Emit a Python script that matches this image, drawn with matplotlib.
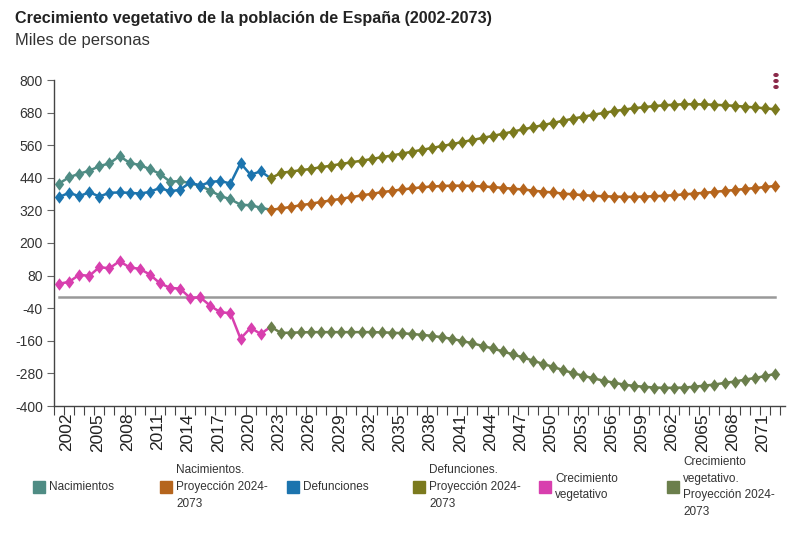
import matplotlib
matplotlib.use("Agg")
import matplotlib.pyplot as plt
import numpy as np
from matplotlib.patches import Rectangle, Circle

plt.rcParams['font.family'] = ['Liberation Sans', 'DejaVu Sans']

# --- data (miles de personas) ---
years_hist = list(range(2002, 2023))
years_proj = list(range(2023, 2074))

nacimientos = [419, 442, 455, 466, 483, 493, 520, 495, 487, 472, 455,
               426, 428, 420, 411, 393, 373, 361, 341, 339, 330]
defunciones = [369, 385, 372, 387, 371, 385, 386, 385, 382, 388, 403,
               390, 396, 423, 411, 425, 428, 419, 494, 451, 464]
crecimiento = [50, 57, 83, 79, 111, 107, 133, 110, 105, 84, 52,
               35, 32, -2, 0, -31, -55, -58, -152, -112, -135]

nacimientos_proy = [322, 327, 333, 339, 345, 351, 357, 363, 369, 375,
                    381, 387, 392, 397, 401, 405, 408, 410, 411, 411,
                    410, 408, 406, 403, 400, 397, 393, 389, 386, 382,
                    379, 376, 374, 372, 371, 370, 370, 371, 372, 374,
                    376, 379, 382, 385, 388, 392, 395, 399, 402, 406, 410]
defunciones_proy = [438, 458, 463, 468, 473, 479, 485, 491, 497, 503,
                    509, 516, 522, 529, 536, 543, 550, 557, 564, 572,
                    579, 587, 594, 602, 610, 618, 626, 634, 642, 650,
                    658, 665, 672, 679, 685, 691, 696, 700, 704, 707,
                    709, 711, 711, 710, 709, 707, 705, 702, 699, 696, 692]
crecimiento_proy = [-108, -131, -130, -129, -128, -128, -128, -128, -128, -128,
                    -128, -129, -130, -132, -135, -138, -142, -147, -153, -161,
                    -169, -179, -188, -199, -210, -221, -233, -245, -256, -268,
                    -279, -289, -298, -307, -314, -321, -326, -329, -332, -333,
                    -333, -332, -329, -325, -321, -315, -310, -303, -297, -290, -282]

yticks = [-400, -280, -160, -40, 80, 200, 320, 440, 560, 680, 800]
xlabels = list(range(2002, 2072, 3))

c_nac = "#4f8c84"
c_nac_p = "#b5651d"
c_def = "#1c74ae"
c_def_p = "#7b7a1e"
c_cre = "#d83fae"
c_cre_p = "#6b7f4c"

series = [
    ("Nacimientos", years_hist, nacimientos, c_nac),
    ("Nacimientos.\nProyección 2024-\n2073", years_proj, nacimientos_proy, c_nac_p),
    ("Defunciones", years_hist, defunciones, c_def),
    ("Defunciones.\nProyección 2024-\n2073", years_proj, defunciones_proy, c_def_p),
    ("Crecimiento\nvegetativo", years_hist, crecimiento, c_cre),
    ("Crecimiento\nvegetativo.\nProyección 2024-\n2073", years_proj, crecimiento_proy, c_cre_p),
]

W, H = 800, 537
fig = plt.figure(figsize=(W / 100, H / 100), dpi=100)
ax = fig.add_axes([54 / W, 1 - 406 / H, (785 - 54) / W, (406 - 80) / H])

diamond = [(0, 1), (0.75, 0), (0, -1), (-0.75, 0), (0, 1)]

# zero line
ax.plot([years_hist[0], years_proj[-1]], [0, 0], color="#999999", lw=1.8, zorder=1)

# connectors between historical and projected series
for hist, proj, col in [(nacimientos, nacimientos_proy, c_nac),
                        (defunciones, defunciones_proy, c_def),
                        (crecimiento, crecimiento_proy, c_cre)]:
    ax.plot([years_hist[-1], years_proj[0]], [hist[-1], proj[0]],
            color=col, lw=1.8, zorder=2)

for label, xs, ys, col in series:
    ax.plot(xs, ys, color=col, lw=1.8, marker=diamond, markersize=9,
            markeredgewidth=0, zorder=3)

ax.set_xlim(2001.5, 2074.0)
ax.set_ylim(-400, 800)
ax.set_yticks(yticks)
ax.set_yticklabels([str(v) for v in yticks])
ax.tick_params(axis="y", length=5, width=0.8, color="#666666",
               labelsize=10, labelcolor="#333333", pad=3)

ax.set_xticks(np.arange(2001.5, 2074.1, 1.0), minor=True)
ax.set_xticks([y + 0.8 for y in xlabels])
ax.set_xticklabels([str(y) for y in xlabels], rotation=90, fontsize=12.5,
                   color="#222222")
ax.tick_params(axis="x", which="major", length=0, pad=5)
ax.tick_params(axis="x", which="minor", length=6.5, width=0.8, color="#444444")

for s in ["top", "right"]:
    ax.spines[s].set_visible(False)
for s in ["left", "bottom"]:
    ax.spines[s].set_color("#444444")
    ax.spines[s].set_linewidth(1.0)

# titles
fig.text(15 / W, 1 - 18 / H, "Crecimiento vegetativo de la población de España (2002-2073)",
         fontsize=11.6, fontweight="bold", color="#222222", va="center")
fig.text(15 / W, 1 - 40 / H, "Miles de personas", fontsize=11.9, color="#333333",
         va="center")

# menu dots top right
for py in [75, 81, 87]:
    fig.add_artist(Circle((776 / W, 1 - py / H), 2.0 / W,
                          color="#8b2a4a", transform=fig.transFigure))

# legend
legend_x = [33, 160, 287, 413, 539, 667]
for (label, xs, ys, col), lx in zip(series, legend_x):
    fig.add_artist(Rectangle((lx / W, 1 - 493 / H), 12 / W, 12 / H,
                             color=col, transform=fig.transFigure))
    fig.text((lx + 16) / W, 1 - 487 / H, label, fontsize=8.5, color="#333333",
             va="center", ha="left", linespacing=1.55)

fig.savefig("out.png", dpi=100)
